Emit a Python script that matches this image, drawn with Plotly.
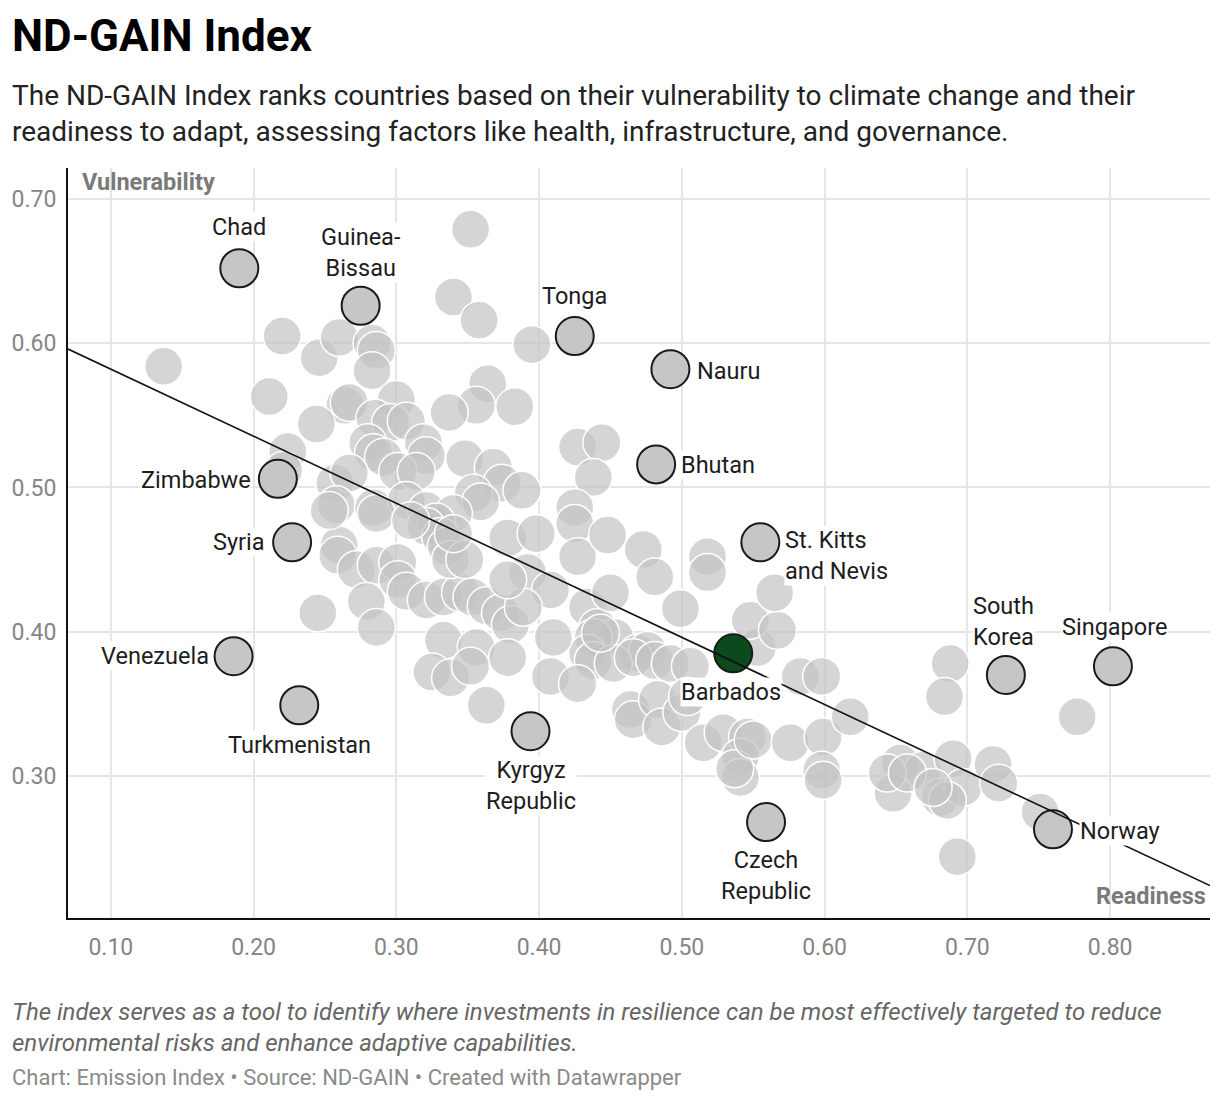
import plotly.graph_objects as go

# --- data (readiness, vulnerability) ---
other_readiness = [
    0.352, 0.340, 0.358, 0.395, 0.364, 0.383, 0.356, 0.337, 0.137, 0.220,
    0.246, 0.260, 0.283, 0.286, 0.283, 0.211, 0.264, 0.267, 0.300, 0.244,
    0.285, 0.296, 0.307, 0.280, 0.284, 0.291, 0.319, 0.321, 0.224, 0.221,
    0.301, 0.314, 0.257, 0.267, 0.348, 0.368, 0.374, 0.388, 0.354, 0.359,
    0.258, 0.284, 0.307, 0.321, 0.340, 0.328, 0.427, 0.444, 0.438, 0.425,
    0.425, 0.427, 0.448, 0.473, 0.481, 0.378, 0.398, 0.392, 0.408, 0.434,
    0.441, 0.450, 0.453, 0.469, 0.476, 0.438, 0.434, 0.410, 0.408, 0.260,
    0.259, 0.272, 0.286, 0.301, 0.301, 0.307, 0.321, 0.333, 0.345, 0.353,
    0.363, 0.373, 0.380, 0.389, 0.321, 0.331, 0.335, 0.338, 0.348, 0.279,
    0.286, 0.245, 0.333, 0.356, 0.378, 0.325, 0.338, 0.352, 0.363, 0.253,
    0.286, 0.310, 0.340, 0.438, 0.452, 0.466, 0.481, 0.492, 0.506, 0.427,
    0.464, 0.466, 0.483, 0.486, 0.500, 0.504, 0.515, 0.529, 0.546, 0.541,
    0.541, 0.537, 0.550, 0.576, 0.599, 0.598, 0.599, 0.618, 0.583, 0.598,
    0.553, 0.548, 0.567, 0.565, 0.518, 0.518, 0.499, 0.443, 0.378, 0.688,
    0.684, 0.777, 0.653, 0.648, 0.669, 0.681, 0.690, 0.697, 0.686, 0.718,
    0.722, 0.751, 0.693, 0.644, 0.658, 0.676,
]
other_vulnerability = [
    0.679, 0.632, 0.616, 0.599, 0.572, 0.556, 0.557, 0.552, 0.584, 0.605,
    0.590, 0.604, 0.600, 0.595, 0.581, 0.563, 0.557, 0.559, 0.561, 0.544,
    0.548, 0.545, 0.546, 0.531, 0.524, 0.521, 0.531, 0.522, 0.525, 0.512,
    0.511, 0.511, 0.503, 0.510, 0.520, 0.514, 0.503, 0.498, 0.496, 0.490,
    0.488, 0.486, 0.491, 0.484, 0.482, 0.476, 0.528, 0.531, 0.507, 0.486,
    0.475, 0.452, 0.467, 0.457, 0.438, 0.465, 0.468, 0.441, 0.429, 0.417,
    0.403, 0.427, 0.396, 0.385, 0.387, 0.396, 0.385, 0.396, 0.369, 0.460,
    0.453, 0.443, 0.446, 0.448, 0.436, 0.428, 0.422, 0.424, 0.427, 0.424,
    0.418, 0.413, 0.405, 0.417, 0.473, 0.466, 0.459, 0.450, 0.450, 0.421,
    0.403, 0.413, 0.394, 0.389, 0.382, 0.372, 0.368, 0.376, 0.349, 0.484,
    0.482, 0.477, 0.468, 0.380, 0.378, 0.382, 0.380, 0.378, 0.376, 0.364,
    0.346, 0.339, 0.353, 0.334, 0.344, 0.355, 0.323, 0.330, 0.327, 0.313,
    0.299, 0.305, 0.325, 0.323, 0.327, 0.304, 0.297, 0.341, 0.369, 0.369,
    0.389, 0.408, 0.401, 0.427, 0.452, 0.441, 0.416, 0.399, 0.436, 0.378,
    0.355, 0.341, 0.309, 0.288, 0.304, 0.285, 0.312, 0.292, 0.283, 0.308,
    0.295, 0.275, 0.244, 0.302, 0.302, 0.292,
]

labeled_countries = [
    "Chad", "Guinea-<br>Bissau", "Tonga", "Nauru", "Bhutan", "Zimbabwe",
    "Syria", "St. Kitts<br>and Nevis", "Venezuela", "Turkmenistan",
    "Kyrgyz<br>Republic", "Czech<br>Republic", "South<br>Korea",
    "Singapore", "Norway",
]
labeled_readiness = [
    0.190, 0.275, 0.425, 0.492, 0.482, 0.217, 0.227, 0.555, 0.186, 0.232,
    0.394, 0.559, 0.727, 0.802, 0.760,
]
labeled_vulnerability = [
    0.652, 0.626, 0.605, 0.582, 0.516, 0.506, 0.462, 0.462, 0.383, 0.349,
    0.331, 0.268, 0.370, 0.376, 0.263,
]

highlight_country = "Barbados"
highlight_readiness = [0.536]
highlight_vulnerability = [0.385]

trend_readiness = [0.07, 0.87]
trend_vulnerability = [0.596, 0.224]

x_ticks = [0.10, 0.20, 0.30, 0.40, 0.50, 0.60, 0.70, 0.80]
y_ticks = [0.30, 0.40, 0.50, 0.60, 0.70]

FONT = "Roboto"
LABEL_FONT = dict(family=FONT, size=23.5, color="#1d1d1d")

fig = go.Figure()

fig.add_trace(go.Scatter(
    x=other_readiness, y=other_vulnerability, mode="markers",
    marker=dict(size=38, color="rgba(195,195,195,0.7)",
                line=dict(color="white", width=1.5)),
    hoverinfo="skip",
))

fig.add_trace(go.Scatter(
    x=labeled_readiness, y=labeled_vulnerability, mode="markers",
    marker=dict(size=38, color="#c6c6c6", line=dict(color="#1a1a1a", width=2)),
    hoverinfo="skip",
))

fig.add_trace(go.Scatter(
    x=highlight_readiness, y=highlight_vulnerability, mode="markers",
    marker=dict(size=38, color="#0b4a1d", line=dict(color="#1a1a1a", width=2)),
    hoverinfo="skip",
))

fig.add_trace(go.Scatter(
    x=trend_readiness, y=trend_vulnerability, mode="lines",
    line=dict(color="#111111", width=1.6),
    hoverinfo="skip",
))

# label placement: (xanchor, xshift, yshift of the label block centre)
placement = {
    "Chad": ("center", 0, 41),
    "Guinea-<br>Bissau": ("center", 0, 53),
    "Tonga": ("center", 0, 40),
    "Nauru": ("left", 26, -2),
    "Bhutan": ("left", 24, -1),
    "Zimbabwe": ("right", -26, -1),
    "Syria": ("right", -26, 0),
    "St. Kitts<br>and Nevis": ("left", 24, -13),
    "Venezuela": ("right", -24, 0),
    "Turkmenistan": ("center", 0, -40),
    "Kyrgyz<br>Republic": ("center", 0, -54),
    "Czech<br>Republic": ("center", 0, -53),
    "South<br>Korea": ("center", -2, 53),
    "Singapore": ("center", 2, 39),
    "Norway": ("left", 26, -2),
}

annotations = []
for name, xv, yv in zip(labeled_countries, labeled_readiness, labeled_vulnerability):
    xa, xs, ys = placement[name]
    annotations.append(dict(
        x=xv, y=yv, xref="x", yref="y", text=name, showarrow=False,
        xanchor=xa, yanchor="middle", xshift=xs, yshift=ys, align=xa,
        font=LABEL_FONT, bgcolor="white", borderpad=0,
    ))

annotations.append(dict(
    x=highlight_readiness[0], y=highlight_vulnerability[0], xref="x", yref="y",
    text=highlight_country, showarrow=False, xanchor="center", yanchor="middle",
    xshift=-2, yshift=-39, font=LABEL_FONT, bgcolor="white", borderpad=0,
))

# axis titles inside the plot
annotations.append(dict(
    x=0.0105, y=0.981, xref="paper", yref="paper", text="<b>Vulnerability</b>",
    showarrow=False, xanchor="left", yanchor="middle",
    font=dict(family=FONT, size=23.5, color="#7a7a7a"),
))
annotations.append(dict(
    x=0.9985, y=0.029, xref="paper", yref="paper", text="<b>Readiness</b>",
    showarrow=False, xanchor="right", yanchor="middle",
    font=dict(family=FONT, size=23.5, color="#7a7a7a"),
))

# header and footer
LEFT = -0.0508
header_footer = [
    ("<b>ND-GAIN Index</b>", 1.176, 44, "#000000"),
    ("The ND-GAIN Index ranks countries based on their vulnerability to climate change and their"
     "<br>readiness to adapt, assessing factors like health, infrastructure, and governance.",
     1.0727, 28, "#222222"),
    ("<i>The index serves as a tool to identify where investments in resilience can be most "
     "effectively targeted to reduce<br>environmental risks and enhance adaptive capabilities.</i>",
     -0.146, 24, "#666666"),
    ("Chart: Emission Index \u2022 Source: ND-GAIN \u2022 Created with Datawrapper",
     -0.2133, 22, "#8a8a8a"),
]
for text, yp, size, color in header_footer:
    annotations.append(dict(
        x=LEFT, y=yp, xref="paper", yref="paper", text=text,
        showarrow=False, xanchor="left", yanchor="middle", align="left",
        font=dict(family=FONT, size=size, color=color),
    ))

# the page puts the figure 8px in from the top-left corner, so the figure
# is 8px smaller than the window and the margins absorb that offset
fig.update_layout(
    width=1212, height=1094,
    margin=dict(l=60, r=10, t=160, b=184, autoexpand=False),
    paper_bgcolor="white", plot_bgcolor="white",
    showlegend=False,
    annotations=annotations,
    font=dict(family=FONT),
)

fig.update_xaxes(
    range=[0.07, 0.87], tickvals=x_ticks, tickformat=".2f", automargin=False,
    showgrid=True, gridcolor="#e6e6e6", gridwidth=2,
    zeroline=False, showline=True, linecolor="#111111", linewidth=2,
    ticks="", ticklabelstandoff=7,
    tickfont=dict(family=FONT, size=23, color="#858585"),
)
fig.update_yaxes(
    range=[0.2015, 0.7215], tickvals=y_ticks, tickformat=".2f", automargin=False,
    showgrid=True, gridcolor="#e6e6e6", gridwidth=2,
    zeroline=False, showline=True, linecolor="#111111", linewidth=2,
    ticks="", ticklabelstandoff=5,
    tickfont=dict(family=FONT, size=23, color="#858585"),
)

fig.write_html("out.html")
